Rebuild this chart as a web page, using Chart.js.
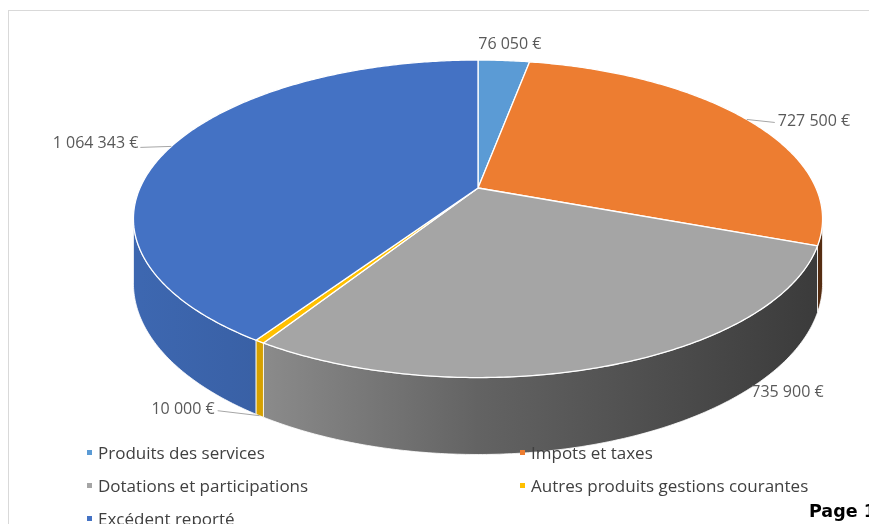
<!DOCTYPE html>
<html>
<head>
<meta charset="utf-8">
<script src="https://cdn.jsdelivr.net/npm/chart.js@4.4.1/dist/chart.umd.min.js"></script>
<style>
  html, body { margin: 0; padding: 0; background: #fff; }
  #wrap { position: relative; width: 869px; height: 524px; overflow: hidden; font-family: 'Open Sans', sans-serif; }
  #frame { position: absolute; left: 8px; top: 10px; width: 900px; height: 600px; border: 1px solid #d9d9d9; box-sizing: border-box; }
  #recettes { position: absolute; left: 0; top: 0; }
  #legend { position: absolute; left: 87px; top: 436px; display: grid; grid-template-columns: 433px 340px; }
  #legend .item { height: 33px; display: flex; align-items: center; font-size: 17px; color: #404040; white-space: nowrap; }
  #legend .item i { width: 5px; height: 5px; margin-right: 6px; display: inline-block; }
  #page { position: absolute; left: 809px; top: 501px; font: bold 17.5px 'DejaVu Sans', sans-serif; color: #000; white-space: nowrap; }
</style>
</head>
<body>
<div id="wrap">
  <div id="frame"></div>
  <canvas id="recettes" width="869" height="524"></canvas>
  <div id="legend"></div>
  <div id="page">Page 1</div>
</div>
<script>
// Recettes de fonctionnement
const categories = [
  'Produits des services',
  'Impots et taxes',
  'Dotations et participations',
  'Autres produits gestions courantes',
  'Excédent reporté'
];
const amounts = [76050, 727500, 735900, 10000, 1064343];
const sliceColors = ['#5B9BD5', '#ED7D31', '#A5A5A5', '#FFC000', '#4472C4'];

// 3D look, relative to the pie radius given by Chart.js
const PERSP = 0.194;
const SCALE_X = 2.012;
const SCALE_Y = 0.9095;
const DEPTH = 0.369;
// where each value label goes, from its anchor on the pie: dx, dy, align, leader line end
const labelPlace = [
  { dx: 6, dy: -16, align: 'center', line: null },
  { dx: 31, dy: 2, align: 'left', line: [28, 3] },
  { dx: 177, dy: -49, align: 'center', line: null },
  { dx: -45, dy: -6, align: 'right', line: [-42, -5] },
  { dx: -33, dy: -3, align: 'right', line: [-31, 1] }
];

const euro = v => v.toLocaleString('fr-FR').replace(/\u202f|\u00a0/g, ' ') + ' €';

function shade(hex, f) {
  const n = parseInt(hex.slice(1), 16);
  const r = Math.round(((n >> 16) & 255) * f);
  const g = Math.round(((n >> 8) & 255) * f);
  const b = Math.round((n & 255) * f);
  return `rgb(${r},${g},${b})`;
}

function project(a, cx, cy, R, lower) {
  const X = Math.cos(a), Z = Math.sin(a);
  const d = 1 - PERSP * Z;
  return {
    x: cx + R * SCALE_X * X / d,
    y: cy + R * SCALE_Y * Z / d + (lower ? R * DEPTH / d : 0)
  };
}

function edge(ctx, s, e, cx, cy, R, lower, reverse, first) {
  const n = Math.max(2, Math.ceil(Math.abs(e - s) / 0.01));
  for (let i = 0; i <= n; i++) {
    const t = reverse ? 1 - i / n : i / n;
    const p = project(s + (e - s) * t, cx, cy, R, lower);
    if (i === 0 && first) ctx.moveTo(p.x, p.y); else ctx.lineTo(p.x, p.y);
  }
}

const pie3d = {
  id: 'pie3d',
  beforeDatasetsDraw(chart) {
    const ctx = chart.ctx;
    const arcs = chart.getDatasetMeta(0).data;
    if (!arcs.length) return false;
    const cx = arcs[0].x, cy = arcs[0].y, R = arcs[0].outerRadius;
    const lo = Math.asin(PERSP), hi = Math.PI - Math.asin(PERSP);
    const colors = chart.data.datasets[0].backgroundColor;

    ctx.save();
    ctx.lineJoin = 'round';

    // outer wall, only the front part shows
    arcs.forEach((arc, i) => {
      const s = Math.max(arc.startAngle, lo), e = Math.min(arc.endAngle, hi);
      if (e <= s) return;
      const g = ctx.createLinearGradient(cx - R * SCALE_X, 0, cx + R * SCALE_X, 0);
      g.addColorStop(0, shade(colors[i], 0.9));
      g.addColorStop(0.18, shade(colors[i], 0.84));
      g.addColorStop(0.5, shade(colors[i], 0.6));
      g.addColorStop(1, shade(colors[i], 0.36));
      ctx.beginPath();
      edge(ctx, s, e, cx, cy, R, false, false, true);
      edge(ctx, s, e, cx, cy, R, true, true, false);
      ctx.closePath();
      ctx.fillStyle = g;
      ctx.fill();
      ctx.strokeStyle = 'rgba(255,255,255,0.8)';
      ctx.lineWidth = 1;
      ctx.stroke();
    });

    // top faces
    arcs.forEach((arc, i) => {
      ctx.beginPath();
      ctx.moveTo(cx, cy);
      edge(ctx, arc.startAngle, arc.endAngle, cx, cy, R, false, false, false);
      ctx.closePath();
      ctx.fillStyle = colors[i];
      ctx.fill();
      ctx.strokeStyle = '#ffffff';
      ctx.lineWidth = 1.3;
      ctx.stroke();
    });

    // value labels
    ctx.font = '16px "Open Sans", sans-serif';
    ctx.fillStyle = '#595959';
    ctx.textBaseline = 'middle';
    arcs.forEach((arc, i) => {
      const mid = (arc.startAngle + arc.endAngle) / 2;
      const front = Math.sin(mid) > PERSP;
      const p = project(mid, cx, cy, R, front);
      const pl = labelPlace[i];
      if (pl.line) {
        ctx.beginPath();
        ctx.moveTo(p.x, p.y);
        ctx.lineTo(p.x + pl.line[0], p.y + pl.line[1]);
        ctx.strokeStyle = '#a6a6a6';
        ctx.lineWidth = 1;
        ctx.stroke();
      }
      ctx.textAlign = pl.align;
      ctx.fillText(euro(chart.data.datasets[0].data[i]), p.x + pl.dx, p.y + pl.dy);
    });

    ctx.restore();
    return false;
  }
};

const chart = new Chart(document.getElementById('recettes'), {
  type: 'pie',
  data: {
    labels: categories,
    datasets: [{
      data: amounts,
      backgroundColor: sliceColors,
      borderWidth: 0,
      hoverOffset: 0
    }]
  },
  options: {
    responsive: false,
    animation: false,
    layout: { padding: { left: 100, right: 13, top: 20, bottom: 168 } },
    plugins: {
      legend: { display: false },
      tooltip: { enabled: false }
    }
  },
  plugins: [pie3d]
});

// legend in two columns, like the original
const legendBox = document.getElementById('legend');
chart.data.labels.forEach((name, i) => {
  const item = document.createElement('div');
  item.className = 'item';
  const mark = document.createElement('i');
  mark.style.background = chart.data.datasets[0].backgroundColor[i];
  item.appendChild(mark);
  item.appendChild(document.createTextNode(name));
  legendBox.appendChild(item);
});
</script>
</body>
</html>
